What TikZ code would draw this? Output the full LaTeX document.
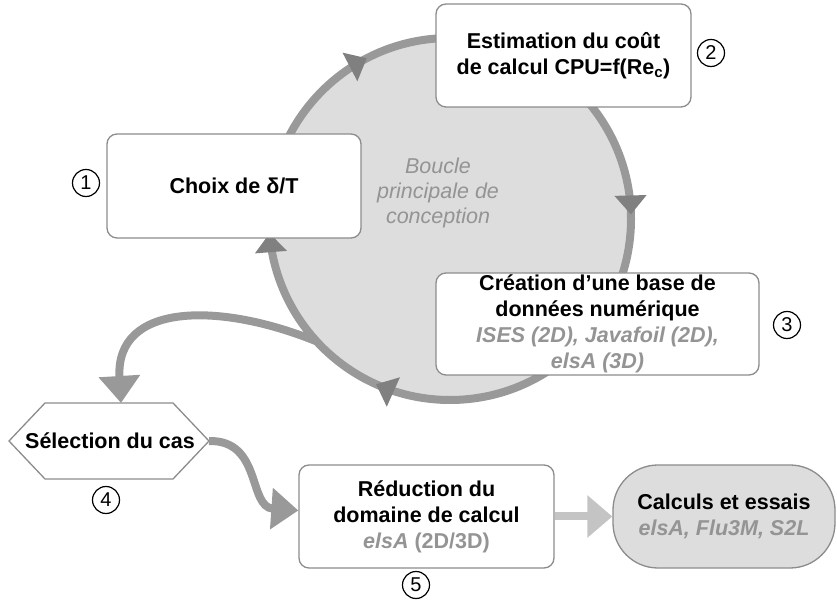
\documentclass[tikz,border=0pt]{standalone}
\usepackage{fontspec}
\setmainfont{Liberation Sans}
\usetikzlibrary{arrows.meta,decorations.markings,calc}
\definecolor{loopline}{HTML}{999999}
\definecolor{loopfill}{HTML}{DDDDDD}
\definecolor{tipgray}{HTML}{808080}
\definecolor{boxline}{HTML}{8C8C8C}
\definecolor{subgray}{HTML}{949494}
\definecolor{lightarrow}{HTML}{C4C4C4}

\begin{document}
\begin{tikzpicture}[x=1pt,y=1pt,
	txt/.style={font=\fontsize{21.5}{26}\selectfont\bfseries, align=center},
	boite/.style={txt, draw=boxline, line width=1.3pt, fill=white, rounded corners=10pt, inner sep=0pt},
	num/.style={circle, draw, line width=1.2pt, minimum size=27pt, inner sep=0pt, font=\fontsize{20}{20}\selectfont},
	fleche/.style={line width=8pt, draw=loopline, -{Triangle[length=27pt,width=40pt]}},
	loophead/.style={tipgray}]
	\useasboundingbox (0,0) rectangle (837,607);
	% boucle principale
	\coordinate (c) at (450,388);
	\path[draw=loopline, fill=loopfill, line width=8pt, postaction={decorate},
		decoration={markings,
			mark=at position 0.174 with {\arrow[loophead]{Triangle[length=19pt,width=31pt]}},
			mark=at position 0.496 with {\arrow[loophead]{Triangle[length=19pt,width=31pt]}},
			mark=at position 0.817 with {\arrow[loophead]{Triangle[length=19pt,width=31pt]}},
			mark=at position 0.9875 with {\arrow[loophead]{Triangle[length=19pt,width=31pt]}}}]
		($(c)+(180:181)$) arc[start angle=180, end angle=-180, radius=181] -- cycle;
	\coordinate (dep) at ($(c)+(222.6:181)$);
	\node (boucle) at (438,414)[font=\fontsize{21.5}{25}\selectfont\itshape, text=subgray, align=center] {Boucle\\principale de\\conception};
	% etapes
	\node (choix) at (234,421)[boite, minimum width=254pt, minimum height=104pt] {Choix de δ/T};
	\node (cout) at (563.5,551.5)[boite, minimum width=255pt, minimum height=103pt] {Estimation du coût\\de calcul CPU=f(Re\textsubscript{c})};
	\node (base) at (597.5,283)[boite, minimum width=323pt, minimum height=102pt] {Création d’une base de\\données numérique\\{\color{subgray}\itshape ISES (2D), Javafoil (2D),}\\{\color{subgray}\itshape elsA (3D)}};
	\coordinate (selc) at (109,166);
	\draw[draw=boxline, line width=1.3pt, fill=white] ($(selc)+(-64,38)$) -- ++(128,0) -- ++(36,-38) coordinate (sele) -- ++(-36,-38) -- ++(-128,0) -- ++(-36,38) -- cycle;
	\coordinate (seln) at ($(selc)+(12,38)$);
	\node (sel) at ($(selc)+(1,0)$)[txt] {Sélection du cas};
	\node (red) at (426.5,90.5)[boite, minimum width=255pt, minimum height=103pt] {Réduction du\\domaine de calcul\\{\color{subgray}\itshape elsA \upshape(2D/3D)}};
	\node (calc) at (724,90.5)[boite, fill=loopfill, rounded corners=45pt, minimum width=222pt, minimum height=103pt] {Calculs et essais\\{\color{subgray}\itshape elsA, Flu3M, S2L}};
	% numeros
	\node (n1) at (86,424)[num] {1};
	\node (n2) at (711,554)[num] {2};
	\node (n3) at (787,282)[num] {3};
	\node (n4) at (106,107)[num] {4};
	\node (n5) at (416,22)[num] {5};
	% fleches
	\draw[fleche] (dep) .. controls (220,305) and (115,305) .. (seln);
	\draw[fleche] (sele) .. controls (262,167) and (248,100) .. ([yshift=6pt]red.west);
	\draw[line width=8pt, draw=lightarrow, -{Triangle[length=25pt,width=41pt]}] (red.east) -- (calc.west);
\end{tikzpicture}
\end{document}
